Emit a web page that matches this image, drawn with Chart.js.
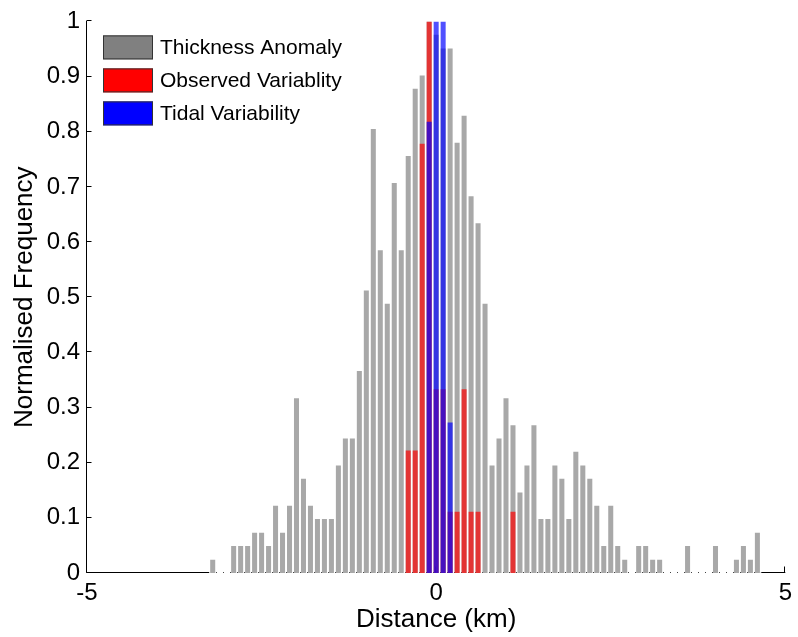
<!DOCTYPE html>
<html>
<head>
<meta charset="utf-8">
<script src="https://cdn.jsdelivr.net/npm/chart.js@4.4.1/dist/chart.umd.min.js"></script>
<style>
  html, body { margin: 0; padding: 0; background: #fff; }
  #wrap { width: 798px; height: 637px; position: relative; }
</style>
</head>
<body>
<div id="wrap"><canvas id="hist"></canvas></div>
<script>
// histogram bins, 0.1 km wide (centres)
const binCenters = [
  -3.2, -3.1, -3.0, -2.9, -2.8, -2.7, -2.6, -2.5, -2.4, -2.3,
  -2.2, -2.1, -2.0, -1.9, -1.8, -1.7, -1.6, -1.5, -1.4, -1.3,
  -1.2, -1.1, -1.0, -0.9, -0.8, -0.7, -0.6, -0.5, -0.4, -0.3,
  -0.2, -0.1, 0.0, 0.1, 0.2, 0.3, 0.4, 0.5, 0.6, 0.7,
  0.8, 0.9, 1.0, 1.1, 1.2, 1.3, 1.4, 1.5, 1.6, 1.7,
  1.8, 1.9, 2.0, 2.1, 2.2, 2.3, 2.4, 2.5, 2.6, 2.7,
  2.8, 2.9, 3.0, 3.1, 3.2, 3.3, 3.4, 3.5, 3.6, 3.7,
  3.8, 3.9, 4.0, 4.1, 4.2, 4.3, 4.4, 4.5, 4.6
];
const thicknessAnomaly = [
  0.024, 0, 0, 0.049, 0.049, 0.049, 0.073, 0.073, 0.049, 0.122,
  0.073, 0.122, 0.317, 0.171, 0.122, 0.098, 0.098, 0.098, 0.195, 0.244,
  0.244, 0.366, 0.512, 0.805, 0.585, 0.488, 0.707, 0.585, 0.756, 0.878,
  0.902, 1, 0.976, 0.951, 0.951, 0.780, 0.829, 0.683, 0.634, 0.488,
  0.195, 0.244, 0.317, 0.268, 0.146, 0.195, 0.268, 0.098, 0.098, 0.195,
  0.171, 0.098, 0.220, 0.195, 0.171, 0.122, 0.049, 0.122, 0.049, 0.024,
  0, 0.049, 0.049, 0.024, 0.024, 0, 0, 0, 0.049, 0,
  0, 0, 0.049, 0, 0, 0.024, 0.049, 0.024, 0.073
];
const observedX = [-0.4, -0.3, -0.2, -0.1, 0.0, 0.1, 0.2, 0.3, 0.4, 0.5, 0.6, 1.1];
const observedVar = [0.222, 0.222, 0.778, 1, 0.333, 0.333, 0.111, 0.111, 0.333, 0.111, 0.111, 0.111];
const tidalX = [-0.1, 0.0, 0.1, 0.2];
const tidalVar = [0.818, 1, 1, 0.273];

const seriesNames = ["Thickness Anomaly", "Observed Variablity", "Tidal Variability"];
const seriesColors = ["#808080", "#FF0000", "#0000FF"];
const barColors = ["rgba(128,128,128,0.685)", "rgba(255,0,0,0.685)", "rgba(0,0,255,0.685)"];

Chart.defaults.font.family = '"Liberation Sans", Arial, sans-serif';
Chart.defaults.color = "#000";

function points(xs, ys) {
  return xs.map((x, i) => ({ x: x, y: ys[i] }));
}

// matlab style axes: inward ticks, baseline hidden under the bin edges
const axesPlugin = {
  id: "matlabAxes",
  beforeDatasetsDraw(chart) {
    const { ctx, chartArea: a, scales: { x, y } } = chart;
    const lx = Math.round(a.left) - 0.5;
    const by = Math.round(a.bottom) - 0.5;
    ctx.save();
    ctx.strokeStyle = "#000";
    ctx.lineWidth = 1;
    ctx.beginPath();
    ctx.moveTo(lx, Math.round(a.top));
    ctx.lineTo(lx, by);
    y.ticks.forEach((t) => {
      const py = Math.round(y.getPixelForValue(t.value)) - 0.5;
      ctx.moveTo(lx, py);
      ctx.lineTo(lx + 5, py);
    });
    const first = x.getPixelForValue(binCenters[0] - 0.05);
    const last = x.getPixelForValue(binCenters[binCenters.length - 1] + 0.05);
    ctx.moveTo(lx, by);
    ctx.lineTo(first, by);
    ctx.moveTo(last, by);
    ctx.lineTo(a.right, by);
    x.ticks.forEach((t) => {
      const px = Math.round(x.getPixelForValue(t.value)) - 0.5;
      ctx.moveTo(px, by);
      ctx.lineTo(px, by - 6);
    });
    ctx.stroke();
    ctx.fillStyle = "#444";
    binCenters.forEach((c) => {
      const px = x.getPixelForValue(c + 0.05);
      ctx.fillRect(Math.round(px), by - 0.5, 1, 1);
    });
    ctx.restore();
  }
};

const legendPlugin = {
  id: "boxLegend",
  afterDatasetsDraw(chart) {
    const { ctx, chartArea: a } = chart;
    const left = a.left + 16;
    ctx.save();
    ctx.font = '21px "Liberation Sans", Arial, sans-serif';
    ctx.textBaseline = "middle";
    ctx.textAlign = "left";
    seriesNames.forEach((name, i) => {
      const top = a.top + 14 + i * 33;
      ctx.fillStyle = seriesColors[i];
      ctx.fillRect(left, top, 50, 24);
      ctx.strokeStyle = "#333";
      ctx.lineWidth = 1;
      ctx.strokeRect(left + 0.5, top + 0.5, 49, 23);
      ctx.fillStyle = "#000";
      ctx.fillText(name, left + 57, top + 13);
    });
    ctx.restore();
  }
};

new Chart(document.getElementById("hist"), {
  type: "bar",
  data: {
    datasets: [
      { label: seriesNames[0], data: points(binCenters, thicknessAnomaly), backgroundColor: barColors[0], grouped: false, order: 3 },
      { label: seriesNames[1], data: points(observedX, observedVar), backgroundColor: barColors[1], grouped: false, order: 2 },
      { label: seriesNames[2], data: points(tidalX, tidalVar), backgroundColor: barColors[2], grouped: false, order: 1 }
    ]
  },
  options: {
    responsive: true,
    maintainAspectRatio: false,
    animation: false,
    layout: { padding: { top: 18, right: 8, left: 0, bottom: 0 } },
    plugins: { legend: { display: false }, tooltip: { enabled: false } },
    scales: {
      x: {
        type: "linear",
        min: -5,
        max: 5,
        offset: false,
        grid: { display: false, drawTicks: false },
        border: { display: false },
        ticks: { stepSize: 5, font: { size: 24 }, color: "#000", padding: 6, maxRotation: 0, autoSkip: false,
                 callback: (v) => String(v) },
        title: { display: true, text: "Distance (km)", font: { size: 26 }, color: "#000", padding: { top: 0, bottom: 2 } },
        afterFit: (s) => { s.height = 64; }
      },
      y: {
        min: 0,
        max: 1,
        grid: { display: false, drawTicks: false },
        border: { display: false },
        ticks: { stepSize: 0.1, font: { size: 24 }, color: "#000", padding: 7,
                 callback: (v) => String(+v.toFixed(1)) },
        title: { display: true, text: "Normalised Frequency", font: { size: 26 }, color: "#000", padding: { top: 9, bottom: 0 } },
        afterFit: (s) => { s.width = 87; }
      }
    }
  },
  plugins: [axesPlugin, legendPlugin]
});
</script>
</body>
</html>
